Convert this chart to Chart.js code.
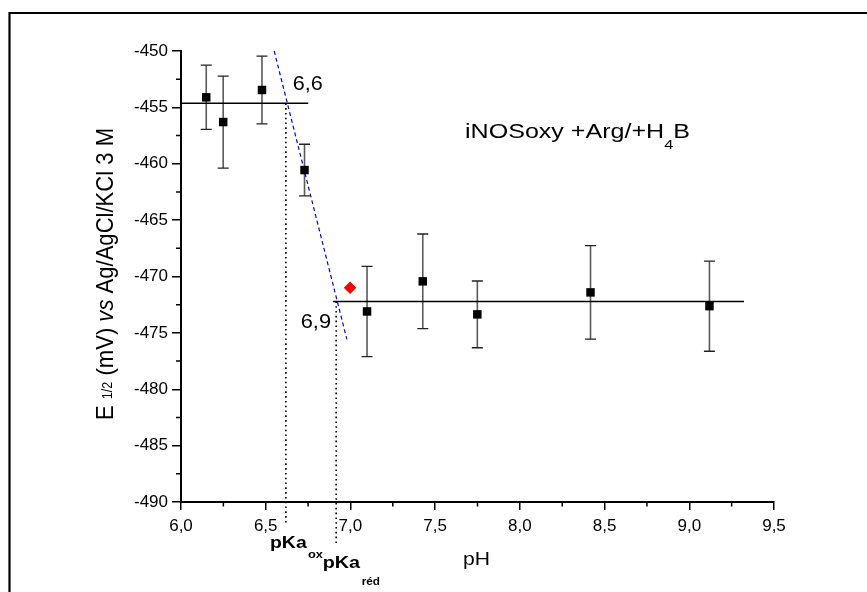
<!DOCTYPE html>
<html>
<head>
<meta charset="utf-8">
<script src="https://cdn.jsdelivr.net/npm/chart.js@4/dist/chart.umd.min.js"></script>
<style>
  html, body { margin: 0; padding: 0; background: #fff; }
  #c { display: block; }
</style>
</head>
<body>
<canvas id="c" width="867" height="592"></canvas>
<script>
// ---- Data ----
const phValues   = [6.149, 6.249, 6.478, 6.729, 7.098, 7.427, 7.749, 8.417, 9.119];
const e12Values  = [-454.11, -456.30, -453.46, -460.56, -473.10, -470.43, -473.36, -471.41, -472.63];
const e12Errors  = [2.85, 4.08, 3.00, 2.29, 4.00, 4.20, 2.96, 4.15, 4.00];
const redPH      = [6.998];
const redE       = [-471.0];
const oxPlateauX = [6.0, 6.751];
const oxPlateauY = [-454.64, -454.64];
const redPlateauX = [6.896, 9.323];
const redPlateauY = [-472.21, -472.21];
const slopeX     = [6.550, 6.979];
const slopeY     = [-450.0, -475.58];
const pKaOxX     = [6.619, 6.619];
const pKaOxY     = [-454.64, -492.06];
const pKaRedX    = [6.916, 6.916];
const pKaRedY    = [-472.21, -493.83];
const xTickValues = [6.0, 6.5, 7.0, 7.5, 8.0, 8.5, 9.0, 9.5];
const yTickValues = [-490, -485, -480, -475, -470, -465, -460, -455, -450];
const xMinorTicks = [6.25, 6.75, 7.25, 7.75, 8.25, 8.75, 9.25];
const yMinorTicks = [-487.5, -482.5, -477.5, -472.5, -467.5, -462.5, -457.5, -452.5];

const FONT = '"Liberation Sans", Arial, Helvetica, sans-serif';
const pts = (xs, ys) => xs.map((x, i) => ({ x: x, y: ys[i] }));

// draw a run of text parts, stretched horizontally to a target width
function drawParts(ctx, parts, x, y, targetW, color) {
  ctx.save();
  let total = 0;
  parts.forEach(p => { ctx.font = p.font; p.w = ctx.measureText(p.t).width; total += p.w; });
  const sx = targetW ? targetW / total : 1;
  ctx.translate(x, y);
  ctx.scale(sx, 1);
  ctx.fillStyle = color || '#000';
  ctx.textBaseline = 'alphabetic';
  ctx.textAlign = 'left';
  let cx = 0;
  parts.forEach(p => { ctx.font = p.font; ctx.fillText(p.t, cx, p.dy || 0); cx += p.w; });
  ctx.restore();
}

const decorations = {
  id: 'decorations',
  beforeDraw(chart) {
    const ctx = chart.ctx;
    ctx.save();
    ctx.strokeStyle = '#000';
    ctx.lineWidth = 2.2;
    ctx.beginPath();
    ctx.moveTo(9.5, 600); ctx.lineTo(9.5, 13); ctx.lineTo(880, 13);
    ctx.stroke();
    ctx.restore();
  },
  beforeDatasetsDraw(chart) {
    const ctx = chart.ctx, xs = chart.scales.x, ys = chart.scales.y;
    ctx.save();
    phValues.forEach((ph, i) => {
      const px = xs.getPixelForValue(ph);
      const top = ys.getPixelForValue(e12Values[i] + e12Errors[i]);
      const bot = ys.getPixelForValue(e12Values[i] - e12Errors[i]);
      ctx.strokeStyle = '#5a5a5a';
      ctx.lineWidth = 1.6;
      ctx.beginPath(); ctx.moveTo(px, top); ctx.lineTo(px, bot); ctx.stroke();
      ctx.strokeStyle = '#222';
      ctx.lineWidth = 1.3;
      ctx.beginPath();
      ctx.moveTo(px - 5.5, top); ctx.lineTo(px + 5.5, top);
      ctx.moveTo(px - 5.5, bot); ctx.lineTo(px + 5.5, bot);
      ctx.stroke();
    });
    ctx.restore();
  },
  afterDraw(chart) {
    const ctx = chart.ctx, xs = chart.scales.x, ys = chart.scales.y;
    const ca = chart.chartArea;
    ctx.save();
    // minor ticks
    ctx.strokeStyle = '#000';
    ctx.lineWidth = 1.5;
    ctx.beginPath();
    xMinorTicks.forEach(v => { const p = xs.getPixelForValue(v); ctx.moveTo(p, ca.bottom); ctx.lineTo(p, ca.bottom + 4.5); });
    yMinorTicks.forEach(v => { const p = ys.getPixelForValue(v); ctx.moveTo(ca.left, p); ctx.lineTo(ca.left - 5, p); });
    ctx.stroke();
    ctx.restore();

    // annotation texts
    drawParts(ctx, [{ t: '6,6', font: '20px ' + FONT }], 292.7, 90, 30);
    drawParts(ctx, [{ t: '6,9', font: '20px ' + FONT }], 300.7, 328.3, 30.3);
    drawParts(ctx, [
      { t: 'iNOSoxy +Arg/+H', font: '20px ' + FONT },
      { t: '4', font: '13px ' + FONT, dy: 11 },
      { t: 'B', font: '20px ' + FONT }
    ], 465, 138, 225);
    drawParts(ctx, [{ t: 'pKa', font: 'bold 16.5px ' + FONT }], 270, 548, 36.7);
    drawParts(ctx, [{ t: 'ox', font: 'bold 11.5px ' + FONT }], 308, 558, 15);
    drawParts(ctx, [{ t: 'pKa', font: 'bold 16.5px ' + FONT }], 322.7, 568, 37.3);
    drawParts(ctx, [{ t: 'réd', font: 'bold 11.5px ' + FONT }], 361.7, 585, 18.3);
    drawParts(ctx, [{ t: 'pH', font: '18px ' + FONT }], 463, 565, 27);

    // rotated y title
    ctx.save();
    ctx.translate(113, 420);
    ctx.rotate(-Math.PI / 2);
    ctx.scale(1, 1.15);
    const parts = [
      { t: 'E', font: '21px ' + FONT },
      { t: ' ', font: '21px ' + FONT },
      { t: '1/2', font: '12px ' + FONT, dy: -1 },
      { t: ' (mV) ', font: '21px ' + FONT },
      { t: 'vs', font: 'italic 21px ' + FONT },
      { t: ' Ag/AgCl/KCl 3 M', font: '21px ' + FONT }
    ];
    let total = 0;
    parts.forEach(p => { ctx.font = p.font; p.w = ctx.measureText(p.t).width; total += p.w; });
    const sx = 292 / total;
    ctx.scale(sx, 1);
    ctx.fillStyle = '#000';
    let cx = 0;
    parts.forEach(p => { ctx.font = p.font; ctx.fillText(p.t, cx, p.dy || 0); cx += p.w; });
    ctx.restore();
  }
};

new Chart(document.getElementById('c'), {
  type: 'scatter',
  data: {
    datasets: [
      {
        label: 'E1/2',
        data: pts(phValues, e12Values),
        pointStyle: 'rect', pointRadius: 6, pointHoverRadius: 6,
        backgroundColor: '#000', borderColor: '#000', borderWidth: 0,
        showLine: false
      },
      {
        label: 'pH 7',
        data: pts(redPH, redE),
        pointStyle: 'rectRot', pointRadius: 6.3, pointHoverRadius: 6.3,
        backgroundColor: '#ff0000', borderColor: '#ff0000', borderWidth: 0,
        showLine: false
      },
      {
        label: 'ox plateau',
        data: pts(oxPlateauX, oxPlateauY),
        showLine: true, pointRadius: 0, borderColor: '#000', borderWidth: 1.5, fill: false
      },
      {
        label: 'red plateau',
        data: pts(redPlateauX, redPlateauY),
        showLine: true, pointRadius: 0, borderColor: '#000', borderWidth: 1.5, fill: false
      },
      {
        label: 'slope',
        data: pts(slopeX, slopeY),
        showLine: true, pointRadius: 0, borderColor: '#0000ff', borderWidth: 1.2,
        borderDash: [4, 3], fill: false, clip: false
      },
      {
        label: 'pKa ox',
        data: pts(pKaOxX, pKaOxY),
        showLine: true, pointRadius: 0, borderColor: '#000', borderWidth: 1.6,
        borderDash: [1.6, 3.2], fill: false, clip: false
      },
      {
        label: 'pKa red',
        data: pts(pKaRedX, pKaRedY),
        showLine: true, pointRadius: 0, borderColor: '#000', borderWidth: 1.6,
        borderDash: [1.6, 3.2], fill: false, clip: false
      }
    ]
  },
  options: {
    responsive: false,
    animation: false,
    devicePixelRatio: 1,
    layout: { padding: { left: 111, right: 93, top: 51, bottom: 0 } },
    plugins: { legend: { display: false }, tooltip: { enabled: false }, title: { display: false } },
    scales: {
      x: {
        type: 'linear', min: 6, max: 9.5,
        afterBuildTicks: s => { s.ticks = xTickValues.map(v => ({ value: v })); },
        afterFit: s => { s.height = 90; },
        ticks: {
          callback: v => Number(v).toFixed(1).replace('.', ','),
          font: { family: FONT, size: 17 }, color: '#000', padding: 6,
          maxRotation: 0, autoSkip: false
        },
        grid: { drawOnChartArea: false, drawTicks: true, tickLength: 8, color: '#000', lineWidth: 1.5 },
        border: { display: true, color: '#000', width: 2 }
      },
      y: {
        type: 'linear', min: -490, max: -450,
        afterBuildTicks: s => { s.ticks = yTickValues.map(v => ({ value: v })); },
        afterFit: s => { s.width = 70; },
        ticks: {
          callback: v => String(v),
          font: { family: FONT, size: 17 }, color: '#000', padding: 4,
          autoSkip: false
        },
        grid: { drawOnChartArea: false, drawTicks: true, tickLength: 9, color: '#000', lineWidth: 1.5 },
        border: { display: true, color: '#000', width: 2 }
      }
    }
  },
  plugins: [decorations]
});
</script>
</body>
</html>
